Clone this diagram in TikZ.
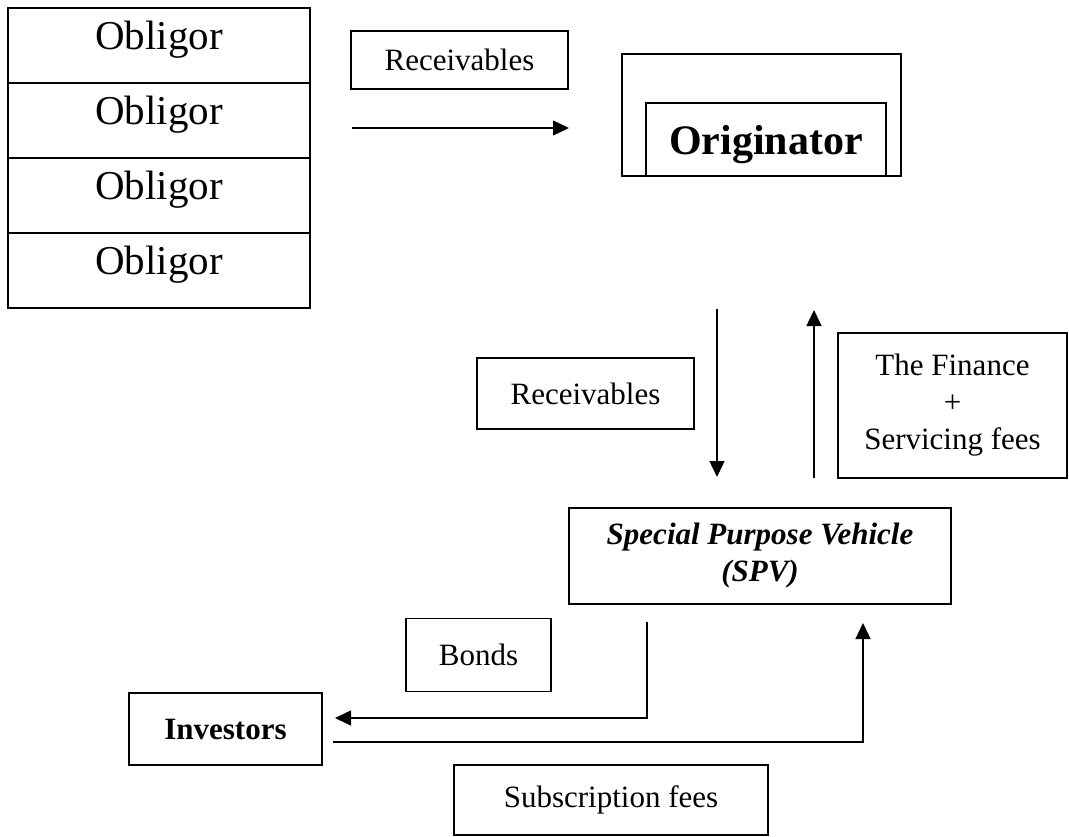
\documentclass[tikz,border=0pt]{standalone}
\usepackage{fontspec}
\setmainfont{Liberation Serif}
\usetikzlibrary{positioning, arrows.meta, calc}

\begin{document}
\begin{tikzpicture}[
			x=1pt, y=-1pt,
			box/.style={rectangle, draw, line width=1.4pt, inner sep=0pt, text centered, align=center, font=\fontsize{31}{37}\selectfont},
			cell/.style={rectangle, draw, line width=1.4pt, inner sep=0pt, minimum width=302pt, minimum height=75pt, text height=42pt, text depth=33pt, font=\fontsize{41}{45}\selectfont},
			arrow/.style={line width=1.4pt, -{Triangle[length=16pt, width=15pt]}},
			]
			\useasboundingbox (0,0) rectangle (1069,837);
			
			% Nodes
			\foreach \i in {1,...,4}
				\node[cell] (obl\i) at (159, {45.5+75*(\i-1)}) {Obligor};
			
			\node[box, minimum width=217pt, minimum height=58pt] (recv1) at (459.5,60) {Receivables};
			
			\node[box, minimum width=279pt, minimum height=122pt] (origframe) at (761.5,115) {};
			\node[box, minimum width=240pt, minimum height=73pt, text depth=0pt, font=\bfseries\fontsize{42}{46}\selectfont] (orig) at (766,139.5) {Originator};
			
			\node[box, minimum width=217pt, minimum height=71pt] (recv2) at (585.5,393.5) {Receivables};
			\node[box, minimum width=229pt, minimum height=145pt] (finance) at (952.5,405.5) {The Finance\\+\\Servicing fees};
			
			\node[box, minimum width=382pt, minimum height=96pt, font=\bfseries\itshape\fontsize{31}{37}\selectfont] (spv) at (760,556) {Special Purpose Vehicle\\(SPV)};
			
			\node[box, minimum width=145pt, minimum height=73pt] (bonds) at (478.5,655) {Bonds};
			\node[box, minimum width=193pt, minimum height=72pt, font=\bfseries\fontsize{31}{37}\selectfont] (investors) at (225.5,729) {Investors};
			\node[box, minimum width=314pt, minimum height=70pt] (subscr) at (611,800) {Subscription fees};
			
			% Connector ends
			\coordinate (rcvstart) at (352,128);
			\coordinate (rcvend) at (569,128);
			\coordinate (downtop) at (717,309);
			\coordinate (downend) at (717,477);
			\coordinate (upstart) at (814,478);
			\coordinate (upend) at (814,310);
			\coordinate (bondstart) at (647,622);
			\coordinate (bondend) at (335,718);
			\coordinate (subscrstart) at (333,742);
			\coordinate (subscrend) at (863,623);
			
			% Arrows
			\draw[arrow] (rcvstart) -- (rcvend);
			\draw[arrow] (downtop) -- (downend);
			\draw[arrow] (upstart) -- (upend);
			\draw[arrow] (bondstart) |- (bondend);
			\draw[arrow] (subscrstart) -| (subscrend);
			
		\end{tikzpicture}
\end{document}
